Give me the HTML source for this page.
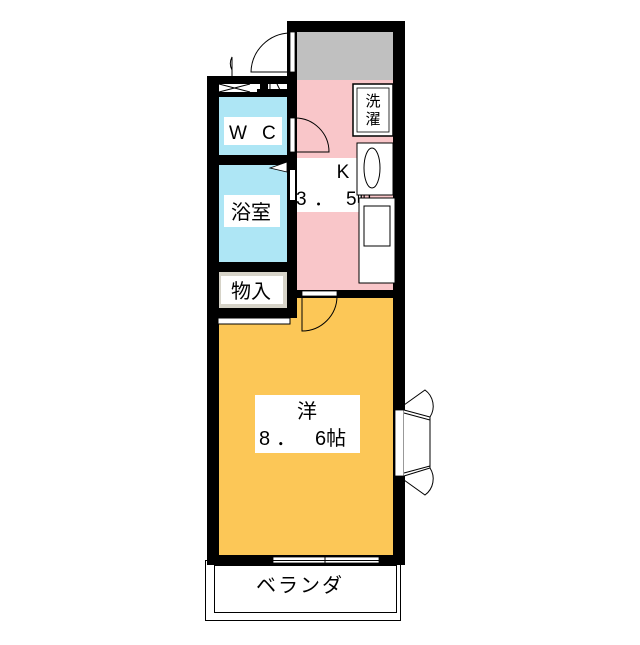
<!DOCTYPE html>
<html><head><meta charset="utf-8"><style>
body{margin:0;background:#fff}
svg text{font-family:"Liberation Sans","Noto Sans CJK JP",sans-serif;fill:#000}
</style></head><body>
<svg width="640" height="640" viewBox="0 0 640 640" xmlns="http://www.w3.org/2000/svg">
<!-- fills -->
<rect x="297" y="32" width="96" height="48" fill="#c0c0c0"/>
<rect x="287" y="80" width="106" height="212" fill="#f9c6c9"/>
<rect x="287" y="158" width="75" height="54" fill="#fff"/>
<rect x="217" y="97" width="70" height="58" fill="#aee6f5"/>
<rect x="217" y="165" width="70" height="97" fill="#aee6f5"/>
<rect x="217" y="290" width="176" height="265" fill="#fcc757"/>
<rect x="217" y="272" width="70" height="36" fill="#d6d3c8"/>
<rect x="221" y="276" width="62" height="28" fill="#fff"/>
<!-- walls -->
<rect x="287" y="21" width="118" height="11" fill="#000"/>
<rect x="393" y="21" width="12" height="544" fill="#000"/>
<rect x="287" y="21" width="10" height="60" fill="#000"/>
<rect x="207" y="76" width="12" height="489" fill="#000"/>
<rect x="207" y="76" width="80" height="8" fill="#000"/>
<rect x="207" y="89" width="90" height="8" fill="#000"/>
<rect x="207" y="155" width="90" height="10" fill="#000"/>
<rect x="207" y="262" width="90" height="10" fill="#000"/>
<rect x="287" y="80" width="10" height="230" fill="#000"/>
<rect x="207" y="308" width="90" height="10" fill="#000"/>
<rect x="297" y="290" width="96" height="8" fill="#000"/>
<rect x="207" y="555" width="198" height="10" fill="#000"/>
<rect x="260" y="80" width="8" height="17" fill="#000"/>
<!-- closet bar -->
<rect x="218" y="318" width="72" height="6" fill="#fff" stroke="#000"/>
<!-- top-left entry cross -->
<rect x="219" y="84" width="38" height="8" fill="#fff"/>
<path d="M219 84 L250 92 M219 92 L250 84" stroke="#000"/>
<!-- doors -->
<rect x="290" y="32" width="5" height="40" fill="#fff" stroke="#000" stroke-width=".8"/>
<path d="M290 33 A40 40 0 0 0 251 72 L290 72" fill="none" stroke="#000"/>
<path d="M232 70 A14 14 0 0 1 232 57 L232 76" fill="none" stroke="#000"/>
<rect x="290" y="118" width="5" height="34" fill="#fff" stroke="#000" stroke-width=".8"/>
<path d="M295 118 A34 34 0 0 1 329 152 L295 152" fill="none" stroke="#000"/>
<rect x="290" y="170" width="5" height="30" fill="#fff"/>
<path d="M270 168 L287 162 L287 172 Z" fill="#fff" stroke="#000" stroke-width=".8"/>
<rect x="302" y="291" width="35" height="5" fill="#fff" stroke="#000" stroke-width=".8"/>
<path d="M337 296 A35 35 0 0 1 302 331 L302 296" fill="none" stroke="#000"/>
<path d="M277 84 L283 96 M270 84 L270 95" stroke="#000"/>
<!-- labels -->
<rect x="224" y="117" width="58" height="28" fill="#fff"/>
<text x="229" y="139" font-size="19">W</text>
<text x="262" y="139" font-size="19">C</text>
<rect x="224" y="195" width="56" height="32" fill="#fff"/>
<text x="251" y="219" font-size="20" text-anchor="middle">浴室</text>
<text x="251" y="298" font-size="20" text-anchor="middle">物入</text>
<rect x="353" y="84" width="40" height="52" fill="#fff" stroke="#000" stroke-width="1.5"/>
<rect x="357" y="88" width="32" height="44" fill="none" stroke="#000" stroke-width=".8"/>
<text x="373" y="106" font-size="15" text-anchor="middle">洗</text>
<text x="373" y="124" font-size="15" text-anchor="middle">濯</text>
<text x="343" y="178" font-size="19" text-anchor="middle">K</text>
<text x="296" y="205" font-size="19">3</text>
<text x="314" y="205" font-size="19">．</text>
<text x="346" y="205" font-size="19">5帖</text>
<!-- sink/stove -->
<rect x="357" y="143" width="36" height="52" fill="#fff" stroke="#000"/>
<ellipse cx="372" cy="168" rx="8" ry="20" fill="#fff" stroke="#000"/>
<rect x="359" y="198" width="36" height="85" fill="#fff" stroke="#000"/>
<rect x="364" y="206" width="26" height="40" fill="#fff" stroke="#000"/>
<!-- western room label -->
<rect x="255" y="395" width="105" height="58" fill="#fff"/>
<text x="307" y="418" font-size="20" text-anchor="middle">洋</text>
<text x="259" y="445" font-size="20">8</text>
<text x="276" y="445" font-size="20">．</text>
<text x="315" y="445" font-size="20">6帖</text>
<!-- right window -->
<rect x="395" y="410" width="9" height="66" fill="#fff" stroke="#000" stroke-width=".8"/>
<path d="M404 410 L430 417 L430 468 L404 476 M404 413 L430 420 L430 466 L404 473" fill="#fff" stroke="#000"/>
<path d="M404 405 L425 390 A20 20 0 0 1 430 417" fill="none" stroke="#000"/>
<path d="M404 480 L425 495 A20 20 0 0 0 430 468" fill="none" stroke="#000"/>
<!-- bottom window -->
<rect x="273" y="557" width="106" height="6" fill="#fff" stroke="#000" stroke-width=".8"/>
<line x1="325" y1="555" x2="325" y2="565" stroke="#000"/>
<!-- balcony -->
<rect x="205.5" y="560.5" width="195" height="60" fill="none" stroke="#000"/>
<rect x="214.5" y="565.5" width="182" height="47" fill="none" stroke="#000"/>
<text x="300" y="592" font-size="20" text-anchor="middle" letter-spacing="2">ベランダ</text>
</svg>
</body></html>
